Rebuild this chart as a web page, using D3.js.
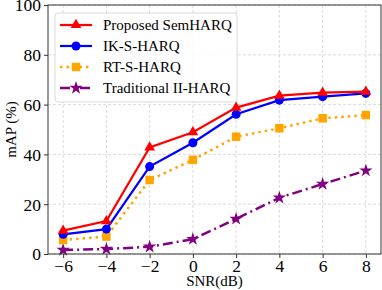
<!DOCTYPE html>
<html>
<head>
<meta charset="utf-8">
<script src="https://cdn.jsdelivr.net/npm/d3@7"></script>
<style>
  body { margin: 0; background: #fff; }
  svg text { font-family: "Liberation Serif", "DejaVu Serif", serif; fill: #000; }
</style>
</head>
<body>
<svg id="chart" width="382" height="290"></svg>
<script>
// chart data
var snr = [-6, -4, -2, 0, 2, 4, 6, 8];
var proposed = [9.4, 13.2, 42.8, 48.9, 58.8, 63.6, 64.8, 65.2];
var ikSHarq = [7.9, 10.0, 35.1, 44.7, 56.1, 61.8, 63.2, 64.5];
var rtSHarq = [5.6, 7.0, 29.7, 37.8, 47.1, 50.5, 54.5, 55.8];
var traditional = [1.6, 2.0, 2.9, 6.0, 14.1, 22.6, 28.1, 33.5];
var yTicks = [0, 20, 40, 60, 80, 100];
var seriesNames = ["Proposed SemHARQ", "IK-S-HARQ", "RT-S-HARQ", "Traditional II-HARQ"];

var series = [
  { name: seriesNames[0], values: proposed, color: "#ff0000", dash: null, marker: "triangle", width: 2.2 },
  { name: seriesNames[1], values: ikSHarq, color: "#0000ff", dash: null, marker: "circle", width: 2.2 },
  { name: seriesNames[2], values: rtSHarq, color: "#ffa500", dash: "2.5,4", marker: "square", width: 2.5 },
  { name: seriesNames[3], values: traditional, color: "#800080", dash: "10,4,2,4", marker: "star", width: 2.5 }
];

var svg = d3.select("#chart");
// plot box (note: "top" is taken by window.top, so use other names)
var pLeft = 48, pRight = 381, pTop = 5, pBottom = 254;

var x = d3.scaleLinear().domain([-6.7, 8.7]).range([pLeft, pRight]);
var y = d3.scaleLinear().domain([0, 100]).range([pBottom, pTop]);

// grid
var grid = svg.append("g");
snr.forEach(function(v) {
  grid.append("line")
    .attr("x1", x(v)).attr("x2", x(v))
    .attr("y1", pTop).attr("y2", pBottom)
    .attr("stroke", "#d0d0d0").attr("stroke-width", 0.8)
    .attr("stroke-dasharray", "3,2");
});
yTicks.forEach(function(v) {
  grid.append("line")
    .attr("x1", pLeft).attr("x2", pRight)
    .attr("y1", y(v)).attr("y2", y(v))
    .attr("stroke", "#d0d0d0").attr("stroke-width", 0.8)
    .attr("stroke-dasharray", "3,2");
});

// axes
var xAxis = d3.axisBottom(x).tickValues(snr).tickSize(4).tickSizeOuter(0)
  .tickFormat(function(d) { return d < 0 ? "\u2212" + Math.abs(d) : d; });
var yAxis = d3.axisLeft(y).tickValues(yTicks).tickSize(4).tickSizeOuter(0);

var gx = svg.append("g").attr("transform", "translate(0," + pBottom + ")").call(xAxis);
var gy = svg.append("g").attr("transform", "translate(" + pLeft + ",0)").call(yAxis);
[gx, gy].forEach(function(g) {
  g.attr("font-family", null).attr("font-size", null);
  g.select(".domain").remove();
  g.selectAll(".tick line").attr("stroke", "#333");
  g.selectAll(".tick text")
    .style("font-size", "17.5px")
    .attr("fill", "#000");
});
gx.selectAll(".tick text").attr("y", 18).attr("dy", 0);
gy.selectAll(".tick text").attr("x", -7).attr("dy", "0.34em");

// lines and markers
var line = d3.line()
  .x(function(d, i) { return x(snr[i]); })
  .y(function(d) { return y(d); });

function markerPath(type) {
  if (type === "triangle") return d3.symbol().type(d3.symbolTriangle).size(50)();
  if (type === "circle") return d3.symbol().type(d3.symbolCircle).size(64)();
  if (type === "square") return d3.symbol().type(d3.symbolSquare).size(72)();
  return d3.symbol().type(d3.symbolStar).size(55)();
}

var plot = svg.append("g");
series.slice().reverse().forEach(function(s) {
  plot.append("path")
    .datum(s.values)
    .attr("d", line)
    .attr("fill", "none")
    .attr("stroke", s.color)
    .attr("stroke-width", s.width)
    .attr("stroke-dasharray", s.dash);
  plot.selectAll(null)
    .data(s.values)
    .enter().append("path")
    .attr("d", markerPath(s.marker))
    .attr("transform", function(d, i) { return "translate(" + x(snr[i]) + "," + y(d) + ")"; })
    .attr("fill", s.color);
});

// frame
svg.append("rect")
  .attr("x", pLeft).attr("y", pTop)
  .attr("width", pRight - pLeft).attr("height", pBottom - pTop)
  .attr("fill", "none").attr("stroke", "#333").attr("stroke-width", 1);

// legend
var lg = svg.append("g");
lg.append("rect")
  .attr("x", 55).attr("y", 13).attr("width", 182).attr("height", 89)
  .attr("rx", 3)
  .attr("fill", "#fff").attr("fill-opacity", 0.85)
  .attr("stroke", "#d0d0d0").attr("stroke-width", 0.8);
series.forEach(function(s, i) {
  var ly = 25 + i * 21;
  lg.append("line")
    .attr("x1", 60).attr("x2", 92)
    .attr("y1", ly).attr("y2", ly)
    .attr("stroke", s.color)
    .attr("stroke-width", s.width)
    .attr("stroke-dasharray", s.dash);
  lg.append("path")
    .attr("d", markerPath(s.marker))
    .attr("transform", "translate(76," + ly + ")")
    .attr("fill", s.color);
  lg.append("text")
    .attr("x", 103).attr("y", ly)
    .attr("dy", "0.35em")
    .style("font-size", "15px")
    .text(s.name);
});

// axis labels
svg.append("text")
  .attr("x", (pLeft + pRight) / 2).attr("y", 286)
  .attr("text-anchor", "middle")
  .style("font-size", "15px")
  .text("SNR(dB)");
svg.append("text")
  .attr("transform", "translate(16," + ((pTop + pBottom) / 2) + ") rotate(-90)")
  .attr("text-anchor", "middle")
  .style("font-size", "15px")
  .text("mAP (%)");
</script>
</body>
</html>
